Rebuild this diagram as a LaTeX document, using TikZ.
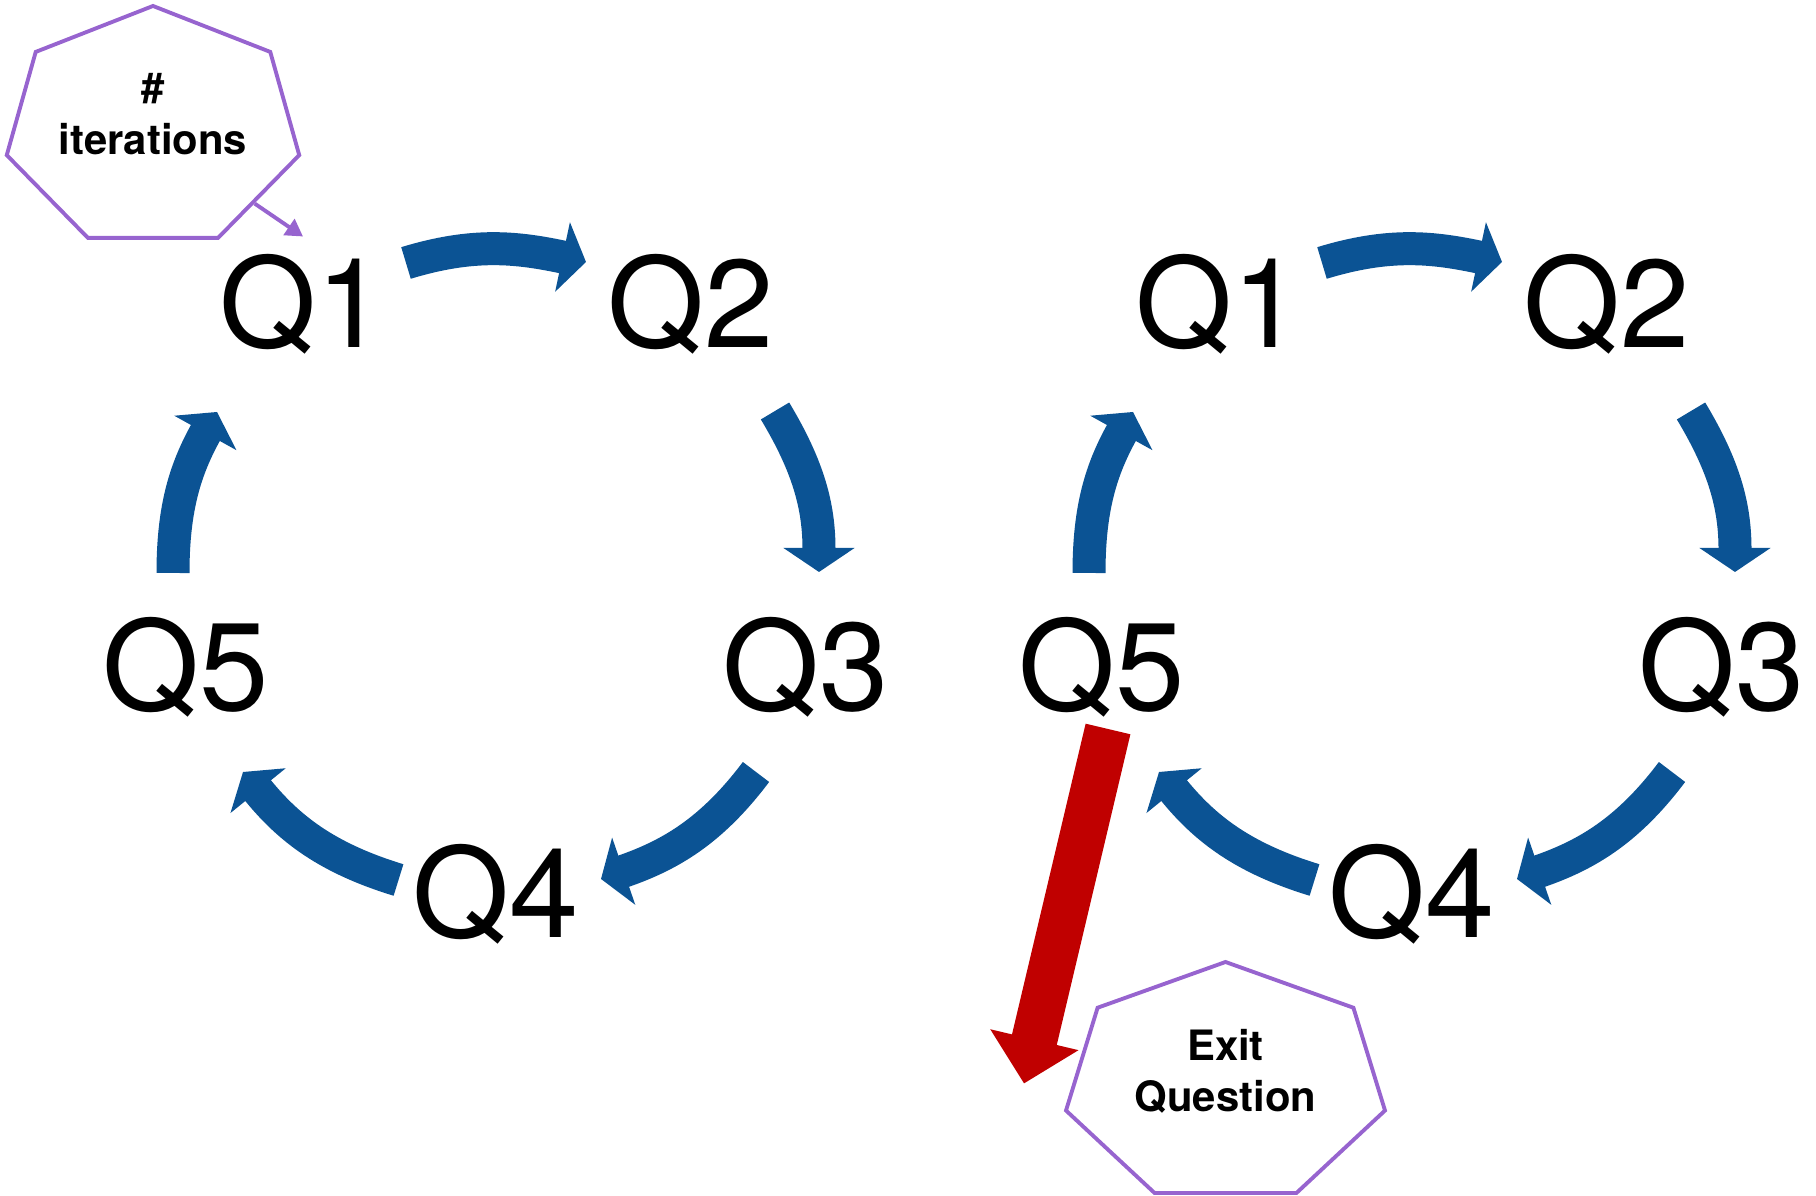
\documentclass[tikz,border=0pt]{standalone}
\usepackage{fontspec}
\setmainfont{TeX Gyre Heros}
\usepackage{xcolor}
\usepackage{tikz}
\usetikzlibrary{arrows.meta, shapes.geometric, calc}
\definecolor{cycleblue}{RGB}{11,83,148}
\definecolor{exitred}{RGB}{192,0,0}
\definecolor{notepurple}{RGB}{151,100,207}
\tikzstyle{question} = [font=\fontsize{35.5}{40}\selectfont, inner sep=5pt]
\tikzstyle{flowarrow} = [line width=0.33cm, draw=cycleblue, -{Triangle[width=0.70cm,length=0.24cm]}]
\tikzstyle{exitarrow} = [line width=0.46cm, draw=exitred, -{Triangle[width=0.88cm,length=0.45cm]}]
\tikzstyle{heptagon} = [regular polygon, regular polygon sides=7, draw=notepurple, line width=1.1pt, inner sep=0pt]
\tikzstyle{note} = [font=\fontsize{11.9}{14.6}\selectfont\bfseries, align=center]
\tikzstyle{pointer} = [draw=notepurple, line width=1.1pt, -{Triangle[width=0.19cm,length=0.17cm]}]

\begin{document}
\begin{tikzpicture}
\useasboundingbox (0,0) rectangle (18.16,11.96);
%----------------------------------------------------------------------------
% Placement of question nodes
% first loop
\node (leftQ1) [question, anchor=base] at (3.03,8.48) {Q1};
\node (leftQ2) [question, anchor=base] at (6.91,8.48) {Q2};
\node (leftQ3) [question, anchor=base] at (8.06,4.85) {Q3};
\node (leftQ4) [question, anchor=base] at (4.96,2.58) {Q4};
\node (leftQ5) [question, anchor=base] at (1.86,4.85) {Q5};

% second loop
\node (rightQ1) [question, anchor=base] at (12.19,8.48) {Q1};
\node (rightQ2) [question, anchor=base] at (16.07,8.48) {Q2};
\node (rightQ3) [question, anchor=base] at (17.22,4.85) {Q3};
\node (rightQ4) [question, anchor=base] at (14.12,2.58) {Q4};
\node (rightQ5) [question, anchor=base] at (11.02,4.85) {Q5};

% notes
\node (iterBox) [heptagon, minimum size=2.44cm, xscale=1.2295] at (1.53,10.68) {};
\node (iterText) [note] at (1.53,10.82) {\#\\iterations};
\node (exitBox) [heptagon, minimum size=2.43cm, xscale=1.3465] at (12.255,1.125) {};
\node (exitText) [note] at (12.255,1.25) {Exit\\Question};
\coordinate (exitEnd) at ([xshift=-2.015cm]exitBox.center);

%----------------------------------------------------------------------------
% Draw lines
\draw [flowarrow] ([shift={(1.03,0.85)}]leftQ1.base) to[out=17,in=168] ([shift={(-1.05,0.86)}]leftQ2.base);
\draw [flowarrow] ([shift={(0.84,-0.63)}]leftQ2.base) to[out=-59,in=90] ([shift={(0.13,1.39)}]leftQ3.base);
\draw [flowarrow] ([shift={(-0.50,-0.61)}]leftQ3.base) to[out=233,in=19] ([shift={(1.05,0.59)}]leftQ4.base);
\draw [flowarrow] ([shift={(-0.975,0.58)}]leftQ4.base) to[out=163,in=-51] ([shift={(0.57,-0.61)}]leftQ5.base);
\draw [flowarrow] ([shift={(-0.13,1.38)}]leftQ5.base) to[out=90,in=241] ([shift={(-0.86,-0.64)}]leftQ1.base);

\draw [flowarrow] ([shift={(1.03,0.85)}]rightQ1.base) to[out=17,in=168] ([shift={(-1.05,0.86)}]rightQ2.base);
\draw [flowarrow] ([shift={(0.84,-0.63)}]rightQ2.base) to[out=-59,in=90] ([shift={(0.13,1.39)}]rightQ3.base);
\draw [flowarrow] ([shift={(-0.50,-0.61)}]rightQ3.base) to[out=233,in=19] ([shift={(1.05,0.59)}]rightQ4.base);
\draw [flowarrow] ([shift={(-0.975,0.58)}]rightQ4.base) to[out=163,in=-51] ([shift={(0.57,-0.61)}]rightQ5.base);
\draw [flowarrow] ([shift={(-0.13,1.38)}]rightQ5.base) to[out=90,in=241] ([shift={(-0.86,-0.64)}]rightQ1.base);

%----------------------------------------------------------------------------
% Draw note lines
\draw [pointer] ($(iterBox.corner 6)!0.57!(iterBox.corner 5)$) -- (leftQ1.north);
\draw [exitarrow] ([shift={(0.06,-0.18)}]rightQ5.base) -- (exitEnd);

\end{tikzpicture}
\end{document}
